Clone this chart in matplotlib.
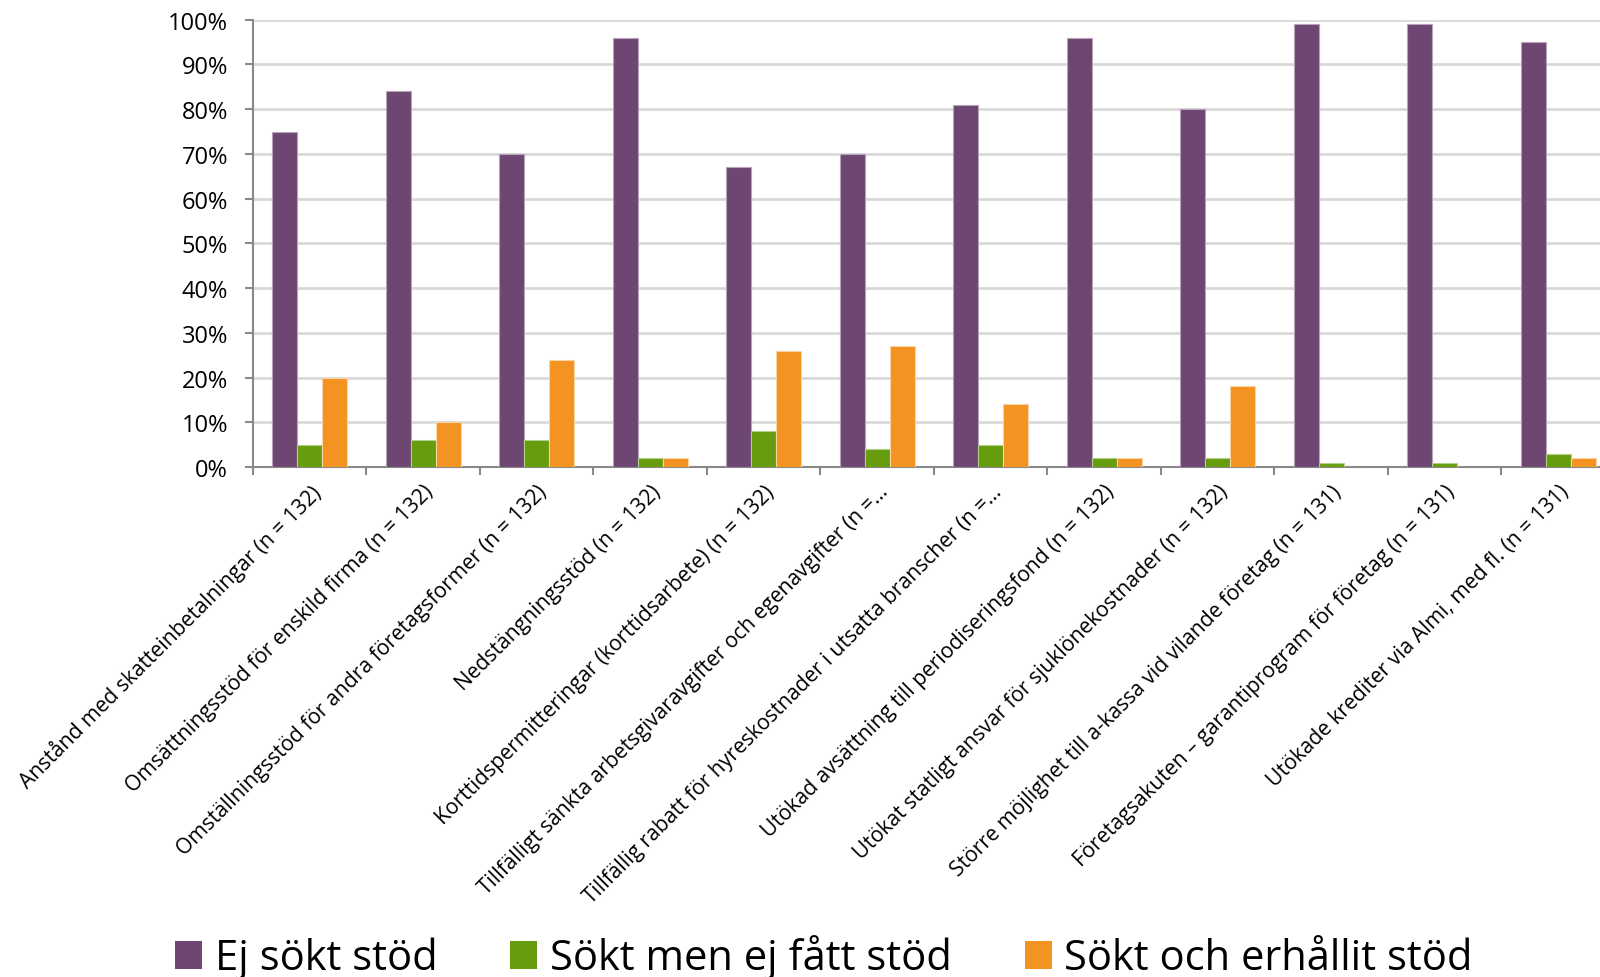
import matplotlib
matplotlib.use("Agg")
import matplotlib.pyplot as plt
import numpy as np
from matplotlib.patches import Patch

plt.rcParams['font.family'] = ['Open Sans', 'DejaVu Sans']

categories = [
    "Anstånd med skatteinbetalningar (n = 132)",
    "Omsättningsstöd för enskild firma (n = 132)",
    "Omställningsstöd för andra företagsformer (n = 132)",
    "Nedstängningsstöd (n = 132)",
    "Korttidspermitteringar (korttidsarbete) (n = 132)",
    "Tillfälligt sänkta arbetsgivaravgifter och egenavgifter (n =...",
    "Tillfällig rabatt för hyreskostnader i utsatta branscher (n =...",
    "Utökad avsättning till periodiseringsfond (n = 132)",
    "Utökat statligt ansvar för sjuklönekostnader (n = 132)",
    "Större möjlighet till a-kassa vid vilande företag (n = 131)",
    "Företagsakuten – garantiprogram för företag (n = 131)",
    "Utökade krediter via Almi, med fl. (n = 131)",
]
series_names = ["Ej sökt stöd", "Sökt men ej fått stöd", "Sökt och erhållit stöd"]
ej_sokt = [75, 84, 70, 96, 67, 70, 81, 96, 80, 99, 99, 95]
sokt_ej_fatt = [5, 6, 6, 2, 8, 4, 5, 2, 2, 1, 1, 3]
sokt_erhallit = [20, 10, 24, 2, 26, 27, 14, 2, 18, 0, 0, 2]
y_ticks = [0, 10, 20, 30, 40, 50, 60, 70, 80, 90, 100]

colors = ["#6D4671", "#669C0D", "#F39321"]
edges = ["#B9A3BB", "#B3D08A", "#FBD3A6"]

W, H = 1600, 978
fig = plt.figure(figsize=(W / 100, H / 100), dpi=100)
left, right, top, bottom = 253, 1615, 20.7, 468
ax = fig.add_axes([left / W, 1 - bottom / H, (right - left) / W, (bottom - top) / H])

x = np.arange(len(categories))
bw = 0.221
for i, (vals, c, e, name) in enumerate(zip([ej_sokt, sokt_ej_fatt, sokt_erhallit], colors, edges, series_names)):
    ax.bar(x + (i - 1) * bw, vals, width=bw, color=c, edgecolor=e, linewidth=0.8, label=name, zorder=3)

ax.set_xlim(-0.5, len(categories) - 0.5)
ax.set_ylim(0, 100)
ax.set_yticks(y_ticks)
ax.set_yticklabels([f"{t}%" for t in y_ticks], fontsize=17)
ax.yaxis.grid(True, color="#D9D9D9", linewidth=2, zorder=0)
ax.set_axisbelow(True)

ax.set_xticks(x)
ax.set_xticklabels(categories, rotation=45, ha="right", va="top", rotation_mode="anchor", fontsize=15.2)
ax.set_xticks(np.arange(-0.5, len(categories)), minor=True)
ax.tick_params(axis="x", which="major", length=0, pad=10)
ax.tick_params(axis="x", which="minor", length=6, width=1.5, color="#898989")
ax.tick_params(axis="y", which="major", length=6, width=1.5, color="#898989", pad=12)

for s in ["top", "right"]:
    ax.spines[s].set_visible(False)
for s in ["left", "bottom"]:
    ax.spines[s].set_color("#898989")
    ax.spines[s].set_linewidth(1.5)

handles = [Patch(facecolor=c) for c in colors]
fig.legend(handles, series_names, loc="center", bbox_to_anchor=(824 / W, 1 - 958 / H),
           ncol=3, frameon=False, fontsize=30, handlelength=0.65, handleheight=0.65,
           handletextpad=0.3, columnspacing=1.75, borderpad=0, borderaxespad=0)

fig.savefig("out.png", dpi=100)
